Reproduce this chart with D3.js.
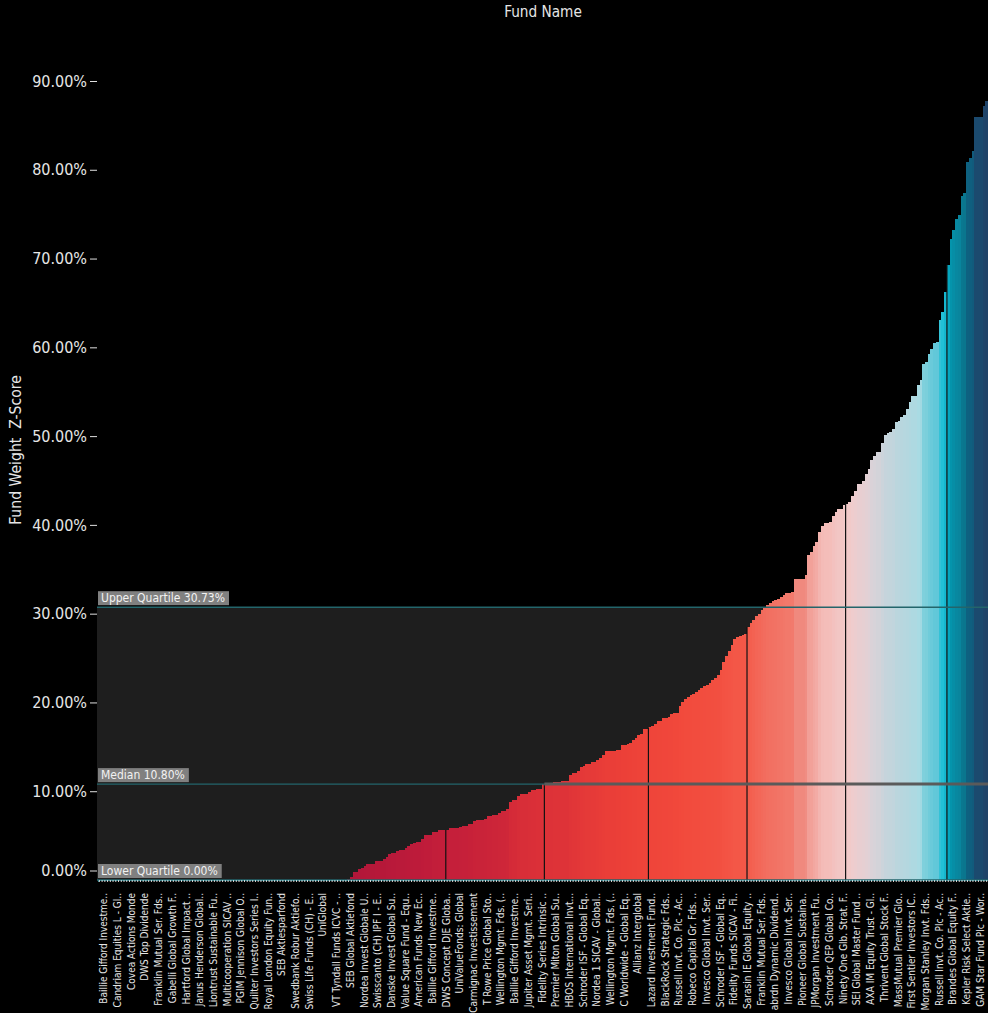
<!DOCTYPE html>
<head>
  <meta charset="utf-8">
  <script src="https://d3js.org/d3.v7.min.js"></script>
  <style>
    body { margin:0; background:#000; }
    text { font-family: "Liberation Sans Narrow", "DejaVu Sans Condensed", "Liberation Sans", sans-serif; }
  </style>
</head>

<body>
  <script>
    var width = 988;
    var height = 1013;

    // fund weights (%), funds sorted ascending
    var fundValues = [
      0,0,0,0,0,0,0,0,0,0, 0,0,0,0,0,0,0,0,0,0, 0,0,0,0,0,0,0,0,0,0,
      0,0,0,0,0,0,0,0,0,0, 0,0,0,0,0,0,0,0,0,0, 0,0,0,0,0,0,0,0,0,0,
      0,0,0,0,0,0,0,0,0,0, 0,0,0,0,0,0,0,0,0,0, 0,0,0,0,0,0,0,0,0,0,
      0,
      0.11, 0.37, 0.9, 0.9, 1.24, 1.4, 1.58, 1.8, 1.8, 1.8,
      2.1, 2.1, 2.1, 2.36, 2.6, 2.9, 3.0, 3.0, 3.27, 3.4,
      3.4, 3.6, 3.8, 4.0, 4.17, 4.28, 4.28, 4.6, 5.07, 5.07,
      5.07, 5.4, 5.4, 5.6, 5.6, 5.6, 5.63, 5.89, 5.89, 5.89,
      5.89, 5.97, 6.08, 6.08, 6.3, 6.3, 6.64, 6.79, 6.79, 6.79,
      6.9, 7.2, 7.2, 7.32, 7.32, 7.54, 7.73, 7.73, 7.96, 8.78,
      9.0, 9.0, 9.46, 9.68, 9.68, 9.68, 9.9, 10.13, 10.13, 10.2,
      10.2, 10.8, 10.8, 10.8, 10.8, 11.03, 11.03, 11.03, 11.14, 11.14,
      11.14, 11.78, 12.0, 12.0, 12.24, 12.72, 12.87, 13.1, 13.1, 13.28,
      13.28, 13.5, 13.77, 14.1, 14.48, 14.48, 14.48, 14.5, 14.64, 14.64,
      15.2, 15.2, 15.35, 15.46, 15.77, 15.95, 16.3, 16.4, 17.0, 17.0,
      17.2, 17.38, 17.57, 17.87, 17.87, 18.2, 18.2, 18.4, 18.7, 18.8,
      18.8, 19.6, 20.0, 20.4, 20.6, 20.8, 21.0, 21.2, 21.4, 21.6,
      21.8, 22.0, 22.2, 22.5, 22.8, 23.1, 23.6, 24.5, 25.2, 25.8,
      26.5, 27.2, 27.4, 27.5, 27.6, 27.7, 28.5, 28.9, 29.3, 29.7,
      30.0, 30.4, 30.73, 31.0, 31.2, 31.4, 31.5, 31.7, 31.9, 32.1,
      32.28, 32.28, 32.43, 33.86, 33.86, 33.86, 33.86, 34.4, 36.6, 36.9,
      37.6, 38.06, 39.16, 39.9, 40.2, 40.2, 40.33, 40.99, 41.5, 41.8,
      41.8, 42.23, 42.4, 42.6, 43.2, 43.86, 44.6, 44.6, 44.93, 45.7,
      46.3, 47.26, 47.75, 48.2, 48.2, 49.17, 50.1, 50.38, 50.5, 50.8,
      51.55, 51.67, 52.1, 52.4, 53.0, 53.8, 54.55, 54.55, 55.8, 56.3,
      58.1, 58.4, 59.3, 59.8, 60.5, 60.6, 63.1, 64.0, 66.2, 69.3,
      72.2, 73.2, 74.4, 74.9, 77.0, 77.4, 80.9, 81.3, 82.1, 86.0,
      86.0, 86.0, 87.2, 87.7
    ];

    // one name shown for every 5th fund
    var labelEvery = 5;
    var tickLabels = [
      "Baillie Gifford Investme..", "Candriam Equities L - Gl..", "Covea Actions Monde",
      "DWS Top Dividende", "Franklin Mutual Ser. Fds..", "Gabelli Global Growth F..",
      "Hartford Global Impact ..", "Janus Henderson Global..", "Liontrust Sustainable Fu..",
      "Multicooperation SICAV ..", "PGIM Jennison Global O..", "Quilter Investors Series I..",
      "Royal London Equity Fun..", "SEB Aktiesparfond", "Swedbank Robur Aktiefo..",
      "Swiss Life Funds (CH) - E..", "UniGlobal", "VT Tyndall Funds ICVC - ..",
      "SEB Global Aktiefond", "Nordea Invest Globale U..", "Swisscanto (CH) IPF I - E..",
      "Danske Invest Global Su..", "Value Square Fund - Equ..", "American Funds New Ec..",
      "Baillie Gifford Investme..", "DWS Concept DJE Globa..", "UniValueFonds: Global",
      "Carmignac Investissement", "T Rowe Price Global Sto..", "Wellington Mgmt. Fds. (..",
      "Baillie Gifford Investme..", "Jupiter Asset Mgmt. Seri..", "Fidelity Series Intrinsic ..",
      "Premier Miton Global Su..", "HBOS International Invt...", "Schroder ISF - Global Eq..",
      "Nordea 1 SICAV - Global..", "Wellington Mgmt. Fds. (..", "C Worldwide - Global Eq..",
      "Allianz Interglobal", "Lazard Investment Fund..", "BlackRock Strategic Fds..",
      "Russell Invt. Co. Plc - Ac..", "Robeco Capital Gr. Fds. ..", "Invesco Global Invt. Ser..",
      "Schroder ISF - Global Eq..", "Fidelity Funds SICAV - Fi..", "Sarasin IE Global Equity ..",
      "Franklin Mutual Ser. Fds..", "abrdn Dynamic Dividend..", "Invesco Global Invt. Ser..",
      "Pioneer Global Sustaina..", "JPMorgan Investment Fu..", "Schroder QEP Global Co..",
      "Ninety One Glb. Strat. F..", "SEI Global Master Fund ..", "AXA IM Equity Trust - Gl..",
      "Thrivent Global Stock F..", "MassMutual Premier Glo..", "First Sentier Investors IC..",
      "Morgan Stanley Invt. Fds..", "Russell Invt. Co. Plc - Ac..", "Brandes Global Equity F..",
      "Kepler Risk Select Aktie..", "GAM Star Fund Plc - Wor.."
    ];

    var quartiles = [
      { name: "Lower Quartile", value: 0.00 },
      { name: "Median", value: 10.80 },
      { name: "Upper Quartile", value: 30.73 }
    ];
    var medianIdx = 163;
    var dividerIdx = [127, 163, 201, 237, 273, 310];

    var yTicks = [0, 10, 20, 30, 40, 50, 60, 70, 80, 90];

    var colorStops = [0, 5, 10, 15, 20, 28, 32, 34, 37, 40, 43, 47, 52, 56, 58, 61, 64, 67, 70, 74, 77, 81, 86];
    var colorRange = ["#ae1539", "#c01c3a", "#da2f38", "#ec4038", "#f24a3c", "#f35848", "#f27668",
      "#f08a80", "#f2a29a", "#f4bcb8", "#f0cccc", "#dcd2d8", "#b8d6de", "#a8dbe3", "#80d0dc",
      "#5cc6d8", "#22c0d6", "#10b4cc", "#00a0b8", "#088aa2", "#0a7890", "#0e6080", "#1b4a6e"];

    var left = 98, right = 988, bottom = 880;

    var svg = d3.select("body")
      .append("svg")
      .attr("width", width)
      .attr("height", height);

    var x = d3.scaleBand()
      .domain(d3.range(fundValues.length))
      .range([left, right])
      .padding(0);

    var y = d3.scaleLinear()
      .domain([0, 90])
      .range([bottom, 81]);

    var color = d3.scaleLinear().domain(colorStops).range(colorRange);

    var upper = quartiles[2].value, lower = quartiles[0].value;

    // inter-quartile band
    svg.append("rect")
      .attr("x", left - 1)
      .attr("y", y(upper))
      .attr("width", right - left + 1)
      .attr("height", y(lower) - y(upper))
      .attr("fill", "#1e1e1e");

    // bars
    svg.append("g")
      .selectAll("rect")
      .data(fundValues)
      .join("rect")
      .attr("x", function(d, i) { return x(i); })
      .attr("width", x.bandwidth())
      .attr("y", function(d) { return y(d); })
      .attr("height", function(d) { return y(0) - y(d); })
      .attr("fill", function(d) { return color(d); })
      .attr("shape-rendering", "crispEdges");

    // dark separators inside bars
    svg.append("g")
      .selectAll("line")
      .data(dividerIdx)
      .join("line")
      .attr("x1", function(i) { return x(i); })
      .attr("x2", function(i) { return x(i); })
      .attr("y1", function(i) { return y(fundValues[i]); })
      .attr("y2", y(0))
      .attr("stroke", "#121212")
      .attr("stroke-width", 1.2);

    // quartile lines
    svg.append("g")
      .selectAll("line")
      .data(quartiles)
      .join("line")
      .attr("x1", left - 1)
      .attr("x2", right)
      .attr("y1", function(d) { return y(d.value); })
      .attr("y2", function(d) { return y(d.value); })
      .attr("stroke", "#23656b")
      .attr("stroke-width", 1.4);

    svg.append("line")
      .attr("x1", x(medianIdx))
      .attr("x2", right)
      .attr("y1", y(quartiles[1].value))
      .attr("y2", y(quartiles[1].value))
      .attr("stroke", "#5a5a5a")
      .attr("stroke-width", 3);

    // y axis
    var gy = svg.append("g")
      .attr("transform", "translate(" + (left - 1) + ",0)")
      .call(d3.axisLeft(y).tickValues(yTicks)
        .tickFormat(function(d) { return d.toFixed(2) + "%"; })
        .tickSize(7).tickPadding(3));
    gy.select(".domain").remove();
    gy.selectAll(".tick line").attr("stroke", "#e0e0e0");
    gy.selectAll(".tick text").attr("fill", "#e6e6e6").style("font-size", "16px")
      .style("font-family", null);
    gy.selectAll(".tick").filter(function(d) { return d === 0; })
      .attr("transform", "translate(0," + (y(0) - 9) + ")");

    // x axis
    var gx = svg.append("g")
      .attr("transform", "translate(0," + bottom + ")")
      .call(d3.axisBottom(x).tickSize(2)
        .tickFormat(function(d) { return d % labelEvery === 0 ? tickLabels[d / labelEvery] : ""; }));
    gx.select(".domain").attr("stroke", "#2b7f88");
    gx.selectAll(".tick line").attr("stroke", "#d8d8d8");
    gx.selectAll(".tick text")
      .attr("fill", "#e6e6e6")
      .style("font-size", "10px")
      .style("font-family", null)
      .attr("transform", "rotate(-90)")
      .attr("text-anchor", "end")
      .attr("x", -13)
      .attr("y", 0)
      .attr("dy", "0.8em");

    // quartile labels
    var ql = svg.append("g").selectAll("g").data(quartiles).join("g")
      .attr("transform", function(d) { return "translate(" + left + "," + (y(d.value) - 2) + ")"; });
    ql.append("text")
      .attr("x", 3)
      .attr("y", -3)
      .attr("fill", "#f2f2f2")
      .style("font-size", "12px")
      .text(function(d) { return d.name + " " + d.value.toFixed(2) + "%"; });
    ql.insert("rect", "text")
      .attr("x", 0)
      .attr("y", -14)
      .attr("height", 14)
      .attr("width", function() { return this.parentNode.querySelector("text").getComputedTextLength() + 7; })
      .attr("fill", "#808080");

    // titles
    svg.append("text")
      .attr("x", (left + right) / 2)
      .attr("y", 17)
      .attr("text-anchor", "middle")
      .attr("fill", "#e6e6e6")
      .style("font-size", "15.2px")
      .text("Fund Name");

    svg.append("text")
      .attr("transform", "translate(21,450) rotate(-90)")
      .attr("text-anchor", "middle")
      .attr("fill", "#e6e6e6")
      .style("font-size", "15.6px")
      .style("white-space", "pre")
      .text("Fund Weight  Z-Score");
  </script>
</body>
